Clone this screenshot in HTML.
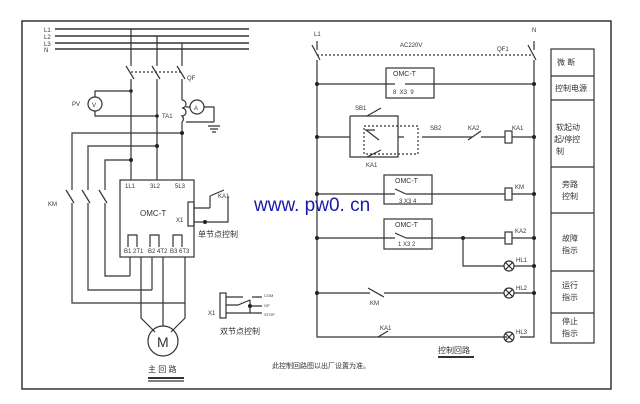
<!DOCTYPE html>
<html><head><meta charset="utf-8"><style>
html,body{margin:0;padding:0;background:#fff;width:640px;height:404px;overflow:hidden}
svg{display:block}
text{font-family:"Liberation Sans","Noto Sans CJK SC",sans-serif;fill:#333}
</style></head><body>
<svg width="640" height="404" viewBox="0 0 640 404" xmlns="http://www.w3.org/2000/svg">
<g stroke="#333" stroke-width="1.2" fill="none">
<rect x="22" y="21" width="589" height="368" stroke-width="1.5"/>
<!-- bus -->
<line x1="55" y1="29" x2="249" y2="29" stroke-width="1.6"/>
<line x1="55" y1="36" x2="249" y2="36" stroke-width="1.6"/>
<line x1="55" y1="43" x2="249" y2="43" stroke-width="1.6"/>
<line x1="55" y1="49" x2="249" y2="49" stroke-width="1.6"/>
<!-- phases -->
<path d="M131 29V66 M126 66L134 79 M131 79V180"/>
<path d="M157 36V66 M152 66L160 79 M157 79V180"/>
<path d="M182 43V66 M177 66L185 79 M182 79V100 M182 122V180"/>
<line x1="131" y1="72" x2="182" y2="72" stroke-dasharray="2 2"/>
<!-- TA1 coil -->
<path d="M182 100a4 4 0 0 1 0 8a4 4 0 0 1 0 8a4 4 0 0 1 0 6"/>
<path d="M186 107H190 M204 107H214V122 M186 122H214 M208 126H220 M210 129H218 M212 132H216"/>
<circle cx="197" cy="107" r="7"/>
<!-- PV -->
<path d="M131 91H95V97 M95 111V116H157"/>
<circle cx="95" cy="104" r="7"/>
<!-- feeders -->
<path d="M182 133H72V190 M66 190L74 203 M72 203V303H185"/>
<path d="M157 146H88V190 M82 190L90 203 M88 203V290H152"/>
<path d="M131 160H105V190 M99 190L107 203 M105 203V276H130"/>
<!-- OMC box -->
<rect x="120" y="180" width="74" height="77"/>
<rect x="188" y="202" width="6" height="24"/>
<path d="M194 208H210 M194 222H205 M210 208V196 M205 222H228V196 M210 196L224 190"/>
<path d="M130 257V276 M152 257V290 M185 257V303 M141 257V318L155 332 M163 257V326 M185 303V318L171 332"/>
<path d="M128 247V235H137V247 M150 247V235H159V247 M173 247V235H182V247"/>
<circle cx="163" cy="341" r="15"/>
<!-- double contact -->
<rect x="220" y="293" width="6" height="25"/>
<path d="M226 297H243 M226 305H238L250 300 M226 313H252 M250 300V313 M252 297H262 M250 306H262 M252 313H262"/>
<line x1="148" y1="378" x2="184" y2="378" stroke-width="2"/>
<line x1="148" y1="381" x2="184" y2="381"/>
<!-- right circuit -->
<path d="M317 41V50 M312 45L320 60 M317 60V337H507 M520 337H534V60 M528 45L536 60 M534 41V50"/>
<line x1="317" y1="55" x2="534" y2="55" stroke-dasharray="2 2"/>
<path d="M317 84H395 M405 84H534"/>
<rect x="386" y="68" width="48" height="30"/>
<path d="M317 137H350 M350 116V157H398V116H350 M398 137H404 M422 137H472 M468 140L481 131 M481 137H505 M512 137H534"/>
<rect x="505" y="131" width="7" height="12"/>
<path d="M367 116L381 108 M367 157L381 150 M366 130L379 140 M365 130H375"/>
<rect x="364" y="126" width="54" height="28" stroke-dasharray="2 2"/>
<path d="M317 194H395 M406 194H505 M512 194H534 M395 189L406 194"/>
<rect x="505" y="188" width="7" height="12"/>
<rect x="384" y="175" width="48" height="29"/>
<path d="M317 238H395 M406 238H505 M512 238H534 M395 233L406 238 M463 238V266H504 M514 266H534"/>
<rect x="505" y="232" width="7" height="12"/>
<rect x="384" y="219" width="48" height="30"/>
<path d="M317 293H370 M368 288L384 297 M384 293H504 M514 293H534 M378 337L388 331"/>
<circle cx="509" cy="266" r="5"/><circle cx="509" cy="293" r="5"/><circle cx="509" cy="337" r="5"/>
<path d="M505 262L513 270 M513 262L505 270 M505 289L513 297 M513 289L505 297 M505 333L513 341 M513 333L505 341"/>
<line x1="438" y1="357" x2="474" y2="357" stroke-width="2"/>
<!-- table -->
<rect x="551" y="49" width="43" height="294"/>
<path d="M551 76H594 M551 100H594 M551 167H594 M551 213H594 M551 271H594 M551 313H594"/>
</g>
<g fill="#222">
<circle cx="131" cy="91" r="1.8"/><circle cx="157" cy="116" r="1.8"/>
<circle cx="182" cy="133" r="2"/><circle cx="157" cy="146" r="2"/><circle cx="131" cy="160" r="2"/>
<circle cx="205" cy="222" r="2"/><circle cx="250" cy="306" r="2"/>
<circle cx="317" cy="84" r="2"/><circle cx="534" cy="84" r="2"/>
<circle cx="317" cy="137" r="2"/><circle cx="534" cy="137" r="2"/>
<circle cx="317" cy="194" r="2"/><circle cx="534" cy="194" r="2"/>
<circle cx="317" cy="238" r="2"/><circle cx="534" cy="238" r="2"/><circle cx="463" cy="238" r="2"/>
<circle cx="534" cy="266" r="2"/><circle cx="317" cy="293" r="2"/><circle cx="534" cy="293" r="2"/>
</g>
<g font-size="6">
<text x="44" y="32">L1</text><text x="44" y="39">L2</text><text x="44" y="46">L3</text><text x="44" y="52">N</text>
<text x="187" y="80">QF</text><text x="72" y="106">PV</text><text x="162" y="118">TA1</text>
<text x="92" y="107">V</text><text x="194" y="110">A</text>
<text x="48" y="206">KM</text>
<text x="125" y="188">1L1</text><text x="150" y="188">3L2</text><text x="175" y="188">5L3</text>
<text x="140" y="216" font-size="8">OMC-T</text><text x="176" y="222">X1</text>
<text x="218" y="198">KA1</text>
<text x="124" y="253">B1 2T1</text><text x="148" y="253">B2 4T2</text><text x="170" y="253">B3 6T3</text>
<text x="157" y="347" font-size="14">M</text>
<text x="208" y="315">X1</text><text x="264" y="297" font-size="4">COM</text><text x="264" y="307" font-size="4">OP</text><text x="264" y="316" font-size="4">STOP</text>
<text x="314" y="36">L1</text><text x="532" y="32">N</text>
<text x="400" y="47">AC220V</text><text x="497" y="51">QF1</text>
<text x="393" y="76" font-size="7">OMC-T</text><text x="393" y="94">8 &#160;X3 &#160;9</text>
<text x="355" y="110">SB1</text><text x="430" y="130">SB2</text><text x="468" y="130">KA2</text><text x="512" y="130">KA1</text>
<text x="366" y="167">KA1</text>
<text x="395" y="183" font-size="7">OMC-T</text><text x="399" y="203">3 X3 4</text><text x="515" y="189">KM</text>
<text x="395" y="227" font-size="7">OMC-T</text><text x="398" y="246">1 X3 2</text><text x="515" y="233">KA2</text>
<text x="516" y="262">HL1</text><text x="516" y="290">HL2</text><text x="516" y="334">HL3</text>
<text x="370" y="305">KM</text><text x="380" y="330">KA1</text>
</g>
<g font-size="8">
<text x="198" y="237">单节点控制</text>
<text x="220" y="334">双节点控制</text>
<text x="148" y="372">主 回 路</text>
<text x="272" y="368" font-size="7">此控制回路图以出厂设置为准。</text>
<text x="438" y="353">控制回路</text>
<text x="557" y="65">微  断</text>
<text x="555" y="91">控制电源</text>
<text x="556" y="130">软起动</text><text x="554" y="142">起/停控</text><text x="556" y="154">制</text>
<text x="562" y="187">旁路</text><text x="562" y="199">控制</text>
<text x="562" y="241">故障</text><text x="562" y="253">指示</text>
<text x="562" y="288">运行</text><text x="562" y="300">指示</text>
<text x="562" y="324">停止</text><text x="562" y="336">指示</text>
</g>
<text x="254" y="211" font-family="'Liberation Serif',serif" font-size="19" style="fill:#1a1aa8">www. pw0. cn</text>
</svg>
</body></html>
